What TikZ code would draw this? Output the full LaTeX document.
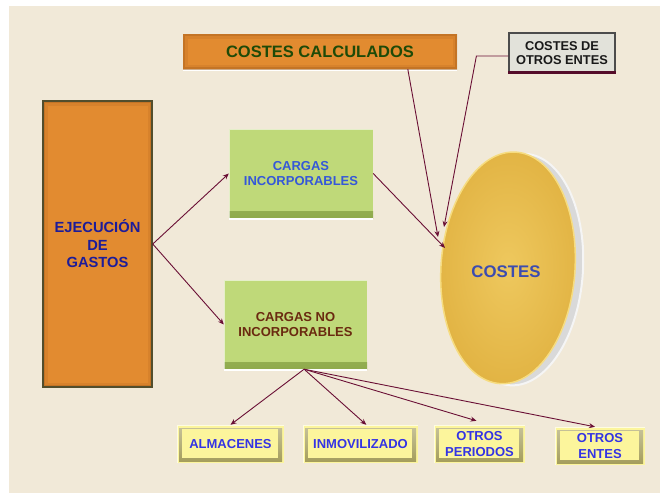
\documentclass[tikz,border=0pt]{standalone}
\usepackage{fontspec}
\setmainfont{Liberation Sans}
\usetikzlibrary{arrows.meta,calc}
\definecolor{bgc}{HTML}{F1E9D8}
\definecolor{orangec}{HTML}{E28B30}
\definecolor{orangedk}{HTML}{9A5418}
\definecolor{greenc}{HTML}{BFD979}
\definecolor{greendk}{HTML}{8FAA4C}
\definecolor{yelc}{HTML}{FCF59C}
\definecolor{yeldk}{HTML}{A39C5A}
\definecolor{arrc}{HTML}{6A0F35}
\definecolor{tblue}{HTML}{1C1C9A}
\definecolor{tblue2}{HTML}{3558D8}
\definecolor{tblue3}{HTML}{3434E4}
\definecolor{tbrown}{HTML}{6A2A10}
\definecolor{tgreen}{HTML}{1E4A08}
\definecolor{grayc}{HTML}{E2E2DA}
\definecolor{coinin}{HTML}{EEC85E}
\definecolor{coinout}{HTML}{E2B444}
\definecolor{coinedge}{HTML}{F6DC80}
\definecolor{cointxt}{HTML}{3C4CB0}
\begin{document}
\begin{tikzpicture}[x=1pt,y=-1pt,
  arr/.style={draw=arrc, line width=0.9pt, -{Stealth[length=6pt,width=5pt]}},
  obox/.style={fill=orangec, inner sep=0pt, align=center,
    path picture={
      \draw[orangedk, line width=9pt, opacity=0.15] (path picture bounding box.south west) rectangle (path picture bounding box.north east);
      \draw[orangedk, line width=4pt, opacity=0.3] (path picture bounding box.south west) rectangle (path picture bounding box.north east);
    }},
  gbox/.style={fill=greenc, inner sep=0pt, align=center,
    font=\bfseries\fontsize{13}{15.5}\selectfont,
    path picture={
      \shade[top color=greenc, bottom color=greendk] ([yshift=7pt]path picture bounding box.south west) rectangle (path picture bounding box.south east);
      \draw[white, line width=1.5pt, opacity=0.6] (path picture bounding box.south west) -- (path picture bounding box.north west) -- (path picture bounding box.north east);
    }},
  ybox/.style={fill=yelc, inner sep=0pt, align=center, text=tblue3,
    minimum height=38pt,
    font=\bfseries\fontsize{13}{15.3}\selectfont,
    path picture={
      \shade[top color=yeldk!60, bottom color=yeldk] ([xshift=2pt,yshift=2pt]path picture bounding box.south west) rectangle ([xshift=-2pt,yshift=-3pt]path picture bounding box.north east);
      \fill[yelc] ([xshift=5pt,yshift=5pt]path picture bounding box.south west) rectangle ([xshift=-6pt,yshift=-4pt]path picture bounding box.north east);
      \draw[white, line width=1.2pt, opacity=0.7] (path picture bounding box.south west) -- (path picture bounding box.north west) -- (path picture bounding box.north east);
    }}
]
\useasboundingbox (0,0) rectangle (667,499);
\fill[white] (0,0) rectangle (667,499);
\fill[bgc] (9,6) rectangle (660,493);

% top boxes
\node[obox, minimum width=274pt, minimum height=35pt, text=tgreen,
  font=\bfseries\fontsize{16.5}{16.5}\selectfont] (cc) at (320,51.5) {COSTES CALCULADOS};
\draw[white, line width=1.5pt] ([yshift=-1.5pt]cc.south west) -- ([yshift=-1.5pt]cc.south east);

\node[fill=grayc, draw=black!70, line width=1.2pt, minimum width=106pt, minimum height=40pt,
  inner sep=0pt, align=center, text=black!90,
  font=\bfseries\fontsize{12.8}{13.3}\selectfont] (coe) at (562,53) {COSTES DE\\OTROS ENTES};
\draw[arrc!80!black, line width=2.5pt] ([yshift=1pt]coe.south west) -- ([yshift=1pt]coe.south east);

% left box
\node[obox, draw=black!55!olive, line width=1.5pt, minimum width=109pt, minimum height=286pt,
  text=tblue, font=\bfseries\fontsize{14.7}{17.5}\selectfont] (ej) at (97.5,244) {EJECUCIÓN\\DE\\GASTOS};

% green boxes
\node[gbox, minimum width=144pt, minimum height=89pt, text=tblue2] (ci) at (301,173.5) {CARGAS\\INCORPORABLES};
\draw[white, line width=1.5pt] ([yshift=-1pt]ci.south west) -- ([yshift=-1pt]ci.south east);
\node[gbox, minimum width=143pt, minimum height=89pt, text=tbrown] (cni) at (295.5,324.5) {CARGAS NO\\INCORPORABLES};
\draw[white, line width=1.5pt] ([yshift=-1pt]cni.south west) -- ([yshift=-1pt]cni.south east);

% bottom boxes
\node[ybox, minimum width=107pt] (alm) at (230.5,444) {ALMACENES};
\node[ybox, minimum width=115pt] (inm) at (360.5,444) {INMOVILIZADO};
\node[ybox, minimum width=91pt] (op) at (479.5,444) {OTROS\\PERIODOS};
\node[ybox, minimum width=90pt] (oe) at (600,446) {OTROS\\ENTES};

% coin
\begin{scope}[rotate around={-4:(510,268)}]
  \fill[draw=white!92!gray, line width=2pt, fill=black!15] (518,269) ellipse [x radius=65pt, y radius=116pt];
  \shade[inner color=coinin, outer color=coinout, draw=coinedge, line width=1.5pt]
    (508,268) ellipse [x radius=67pt, y radius=116pt];
\end{scope}
\node[text=cointxt, font=\bfseries\fontsize{16.8}{16.8}\selectfont, inner sep=0pt] (costes) at (506,272) {COSTES};

\coordinate (t1) at (438,237);
\coordinate (t2) at (444,227);
\coordinate (t3) at (445,248);

% connectors
\draw[arr] (ej.east) -- (ci.west);
\draw[arr] (ej.east) -- (cni.west);
\draw[arr] (ci.east) -- (t3);
\draw[arr] ($(cc.south west)!0.82!(cc.south east)$) -- (t1);
\draw[arr] ([yshift=-3pt]coe.west) -- ++(-32,0) -- (t2);
\coordinate (s) at ($(cni.south west)!0.56!(cni.south east)$);
\draw[arr] (s) -- (alm.north);
\draw[arr] (s) -- ($(inm.north west)!0.55!(inm.north east)$);
\draw[arr] (s) -- ([yshift=4pt,xshift=-3pt]op.north);
\draw[arr] (s) -- ([xshift=-5pt]oe.north);
\end{tikzpicture}
\end{document}
